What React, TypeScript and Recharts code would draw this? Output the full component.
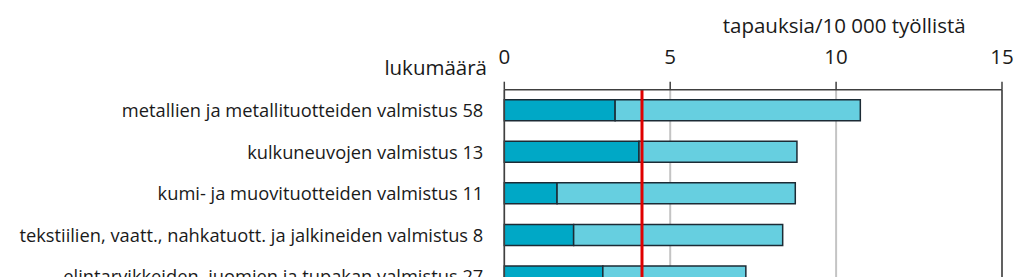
import React from "react";
import {
  BarChart,
  Bar,
  XAxis,
  YAxis,
  CartesianGrid,
  ReferenceLine,
} from "recharts";

const categories = [
  "metallien ja metallituotteiden valmistus",
  "kulkuneuvojen valmistus",
  "kumi- ja muovituotteiden valmistus",
  "tekstiilien, vaatt., nahkatuott. ja jalkineiden valmistus",
  "elintarvikkeiden, juomien ja tupakan valmistus",
];
const counts = [58, 13, 11, 8, 27];
const darkPart = [3.34, 4.06, 1.59, 2.09, 2.97];
const lightPart = [7.39, 4.76, 7.18, 6.3, 4.31];
const xTicks = [0, 5, 10, 15];
const averageRate = 4.15;

const FONT = "'Open Sans', sans-serif";
const TEXT = "#1a1a1a";
const AXIS = "#404040";

const data = categories.map((c, i) => ({
  label: `${c} ${counts[i]}`,
  dark: darkPart[i],
  light: lightPart[i],
}));

export default function App() {
  return (
    <div style={{ position: "relative", width: 1014, height: 300 }}>
      <BarChart
        width={1014}
        height={300}
        data={data}
        layout="vertical"
        margin={{ top: 52, right: 20, bottom: 10.5, left: 0 }}
        barSize={21}
      >
        <CartesianGrid horizontal={false} stroke="#c4c4c4" strokeWidth={2} />
        <XAxis
          type="number"
          orientation="top"
          domain={[0, 15]}
          ticks={xTicks}
          height={29.7}
          tickSize={8}
          tickMargin={18}
          axisLine={{ stroke: AXIS, strokeWidth: 1.5 }}
          tickLine={{ stroke: AXIS, strokeWidth: 1.5 }}
          tick={{ fill: TEXT, fontSize: 20.5, fontFamily: FONT }}
        />
        <YAxis
          type="category"
          dataKey="label"
          width={496.3}
          interval={0}
          tickLine={false}
          tickSize={0}
          tickMargin={21}
          axisLine={{ stroke: AXIS, strokeWidth: 1.5 }}
          tick={{ fill: TEXT, fontSize: 18.3, fontFamily: FONT }}
        />
        <Bar
          dataKey="dark"
          stackId="a"
          fill="#00A8C6"
          stroke="#1c2b35"
          strokeWidth={1.5}
          isAnimationActive={false}
        />
        <Bar
          dataKey="light"
          stackId="a"
          fill="#66CFE0"
          stroke="#1c2b35"
          strokeWidth={1.5}
          isAnimationActive={false}
        />
        <ReferenceLine x={15} stroke={AXIS} strokeWidth={1.5} />
        <ReferenceLine x={averageRate} stroke="#e00000" strokeWidth={3} />
      </BarChart>
      <svg
        width={1014}
        height={300}
        style={{ position: "absolute", left: 0, top: 0, pointerEvents: "none" }}
      >
        <text
          x={714.7}
          y={25.3}
          fill={TEXT}
          fontSize={20.5}
          fontFamily={FONT}
        >
          tapauksia/10 000 työllistä
        </text>
        <text
          x={479}
          y={67}
          fill={TEXT}
          fontSize={20.5}
          fontFamily={FONT}
          textAnchor="end"
        >
          lukumäärä
        </text>
      </svg>
    </div>
  );
}
